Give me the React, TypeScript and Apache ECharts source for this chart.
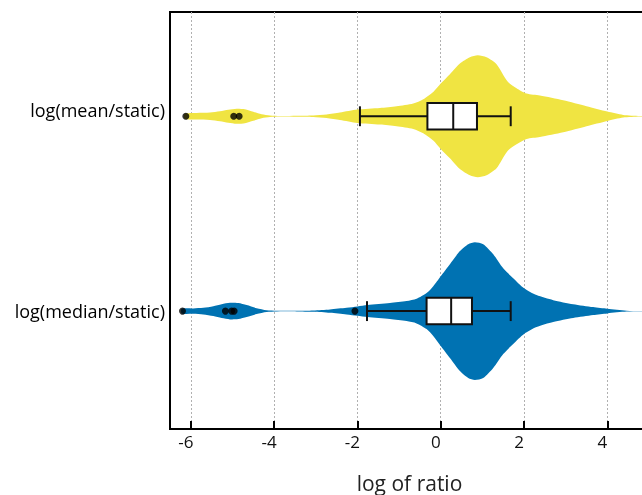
import React, { useEffect, useRef } from "react";
import * as echarts from "echarts";

// Category labels (y positions: median = 0, mean = 1)
const categoryLabels = ["log(median/static)", "log(mean/static)"];
const categoryCenters = [0, 1];

// X tick values (log of ratio)
const tickValues = [-6, -4, -2, 0, 2, 4];

// Violin density profiles (x = log ratio, density relative to the widest violin)
const meanProfileX = [-6.15, -5.86, -5.54, -5.3, -5.1, -4.9, -4.7, -4.5, -4.3, -4.1, -3.86, -3.46, -3.06, -2.74, -2.42, -2.0, -1.46, -1.06, -0.66, -0.42, -0.18, 0.0, 0.22, 0.46, 0.7, 0.89, 1.1, 1.34, 1.6, 1.82, 2.06, 2.38, 2.94, 3.5, 4.0, 4.38, 4.78, 5.0];
const meanDensity = [0.036, 0.048, 0.054, 0.072, 0.094, 0.109, 0.101, 0.065, 0.029, 0.012, 0.004, 0.007, 0.01, 0.025, 0.054, 0.097, 0.12, 0.145, 0.184, 0.246, 0.352, 0.474, 0.609, 0.764, 0.855, 0.884, 0.855, 0.754, 0.507, 0.406, 0.329, 0.3, 0.232, 0.145, 0.068, 0.019, 0.004, 0.002];

const medianProfileX = [-6.22, -5.94, -5.7, -5.46, -5.26, -5.06, -4.86, -4.66, -4.42, -4.18, -3.94, -3.46, -3.06, -2.66, -2.26, -2.0, -1.76, -1.22, -0.82, -0.58, -0.34, -0.18, 0.0, 0.22, 0.46, 0.66, 0.82, 1.02, 1.26, 1.5, 1.74, 2.0, 2.3, 2.7, 3.18, 3.66, 4.0, 4.46, 4.78, 5.0];
const medianDensity = [0.033, 0.039, 0.048, 0.072, 0.101, 0.12, 0.116, 0.087, 0.043, 0.014, 0.006, 0.004, 0.01, 0.025, 0.048, 0.068, 0.087, 0.116, 0.145, 0.178, 0.261, 0.362, 0.507, 0.681, 0.87, 0.971, 1.0, 0.971, 0.826, 0.623, 0.478, 0.333, 0.232, 0.159, 0.101, 0.058, 0.033, 0.007, 0.003, 0.002];

// Box plot statistics: [lower whisker, Q1, median, Q3, upper whisker]
const meanBox = [-1.94, -0.32, 0.3, 0.87, 1.68];
const medianBox = [-1.77, -0.34, 0.25, 0.75, 1.68];

// Outliers
const meanOutliers = [-6.12, -4.97, -4.84];
const medianOutliers = [-6.2, -5.17, -5.02, -4.96, -2.06];

const YELLOW = "#F0E442";
const BLUE = "#0072B2";
const VIOLIN_HALF = 0.354; // half-width (y units) of density 1
const BOX_HALF = 0.068;
const CAP_HALF = 0.051;
const FONT = "'Open Sans', 'Noto Sans', sans-serif";

function violinRenderer(xs: number[], dens: number[], color: string) {
  return (_params: any, api: any) => {
    const cy = api.value(1);
    const top: number[][] = [];
    const bottom: number[][] = [];
    for (let i = 0; i < xs.length; i++) {
      top.push(api.coord([xs[i], cy + dens[i] * VIOLIN_HALF]));
      bottom.push(api.coord([xs[i], cy - dens[i] * VIOLIN_HALF]));
    }
    const points = top.concat(bottom.reverse());
    return {
      type: "polygon",
      shape: { points, smooth: 0.25 },
      style: { fill: color, stroke: null },
    };
  };
}

function boxRenderer(stats: number[]) {
  return (_params: any, api: any) => {
    const cy = api.value(1);
    const [lo, q1, med, q3, hi] = stats;
    const pLo = api.coord([lo, cy]);
    const pHi = api.coord([hi, cy]);
    const capTop = api.coord([lo, cy + CAP_HALF]);
    const capBot = api.coord([lo, cy - CAP_HALF]);
    const capTop2 = api.coord([hi, cy + CAP_HALF]);
    const capBot2 = api.coord([hi, cy - CAP_HALF]);
    const bTL = api.coord([q1, cy + BOX_HALF]);
    const bBR = api.coord([q3, cy - BOX_HALF]);
    const mT = api.coord([med, cy + BOX_HALF]);
    const mB = api.coord([med, cy - BOX_HALF]);
    const lineStyle = { stroke: "#111", lineWidth: 2 };
    return {
      type: "group",
      children: [
        { type: "line", shape: { x1: pLo[0], y1: pLo[1], x2: pHi[0], y2: pHi[1] }, style: lineStyle },
        { type: "line", shape: { x1: capTop[0], y1: capTop[1], x2: capBot[0], y2: capBot[1] }, style: lineStyle },
        { type: "line", shape: { x1: capTop2[0], y1: capTop2[1], x2: capBot2[0], y2: capBot2[1] }, style: lineStyle },
        {
          type: "rect",
          shape: { x: bTL[0], y: bTL[1], width: bBR[0] - bTL[0], height: bBR[1] - bTL[1] },
          style: { fill: "#fff", stroke: "#111", lineWidth: 2 },
        },
        { type: "line", shape: { x1: mT[0], y1: mT[1], x2: mB[0], y2: mB[1] }, style: { stroke: "#111", lineWidth: 2 } },
      ],
    };
  };
}

export default function App() {
  const ref = useRef<HTMLDivElement>(null);
  useEffect(() => {
    if (!ref.current) return;
    const chart = echarts.init(ref.current, null, { renderer: "svg" });
    const yMedian = categoryCenters[0];
    const yMean = categoryCenters[1];
    chart.setOption({
      animation: false,
      grid: {
        left: 170,
        top: 12,
        width: 479,
        bottom: 66,
        outerBoundsMode: "none",
        containLabel: false,
        show: true,
        borderColor: "#000",
        borderWidth: 2,
        backgroundColor: "transparent",
      },
      xAxis: {
        type: "value",
        min: -6.5,
        max: 5,
        name: "log of ratio",
        nameLocation: "middle",
        nameGap: 43,
        nameTextStyle: { fontFamily: FONT, fontSize: 21, color: "#222" },
        axisLine: { show: true, onZero: false, lineStyle: { color: "#000", width: 2 } },
        axisTick: {
          show: true,
          inside: true,
          length: 8,
          customValues: tickValues,
          lineStyle: { color: "#000", width: 2 },
        },
        axisLabel: {
          customValues: tickValues,
          fontFamily: FONT,
          fontSize: 17,
          color: "#111",
          margin: 4,
          padding: [0, 10, 0, 0],
        },
        splitLine: { show: true, lineStyle: { color: "#b0b0b0", type: [2, 2], width: 1 } },
      },
      yAxis: {
        type: "value",
        min: -0.605,
        max: 1.535,
        axisLine: { show: false },
        axisTick: { show: false },
        splitLine: { show: false },
        axisLabel: {
          customValues: [yMedian, yMean + 0.03],
          fontFamily: FONT,
          fontSize: 18,
          color: "#000",
          margin: 5,
          formatter: (v: number) => (v < 0.5 ? categoryLabels[0] : categoryLabels[1]),
        },
      },
      series: [
        {
          type: "custom",
          renderItem: violinRenderer(meanProfileX, meanDensity, YELLOW),
          data: [[0, yMean]],
          encode: { x: 0, y: 1 },
          z: 2,
        },
        {
          type: "custom",
          renderItem: violinRenderer(medianProfileX, medianDensity, BLUE),
          data: [[0, yMedian]],
          encode: { x: 0, y: 1 },
          z: 2,
        },
        {
          type: "custom",
          renderItem: boxRenderer(meanBox),
          data: [[0, yMean]],
          encode: { x: 0, y: 1 },
          z: 3,
        },
        {
          type: "custom",
          renderItem: boxRenderer(medianBox),
          data: [[0, yMedian]],
          encode: { x: 0, y: 1 },
          z: 3,
        },
        {
          type: "scatter",
          symbolSize: 7,
          itemStyle: { color: "#000" },
          data: meanOutliers.map((x) => [x, yMean]),
          z: 4,
        },
        {
          type: "scatter",
          symbolSize: 7,
          itemStyle: { color: "#000" },
          data: medianOutliers.map((x) => [x, yMedian]),
          z: 4,
        },
      ],
    });
    return () => chart.dispose();
  }, []);
  return <div ref={ref} style={{ position: "fixed", left: 0, top: 0, width: 642, height: 495 }} />;
}
